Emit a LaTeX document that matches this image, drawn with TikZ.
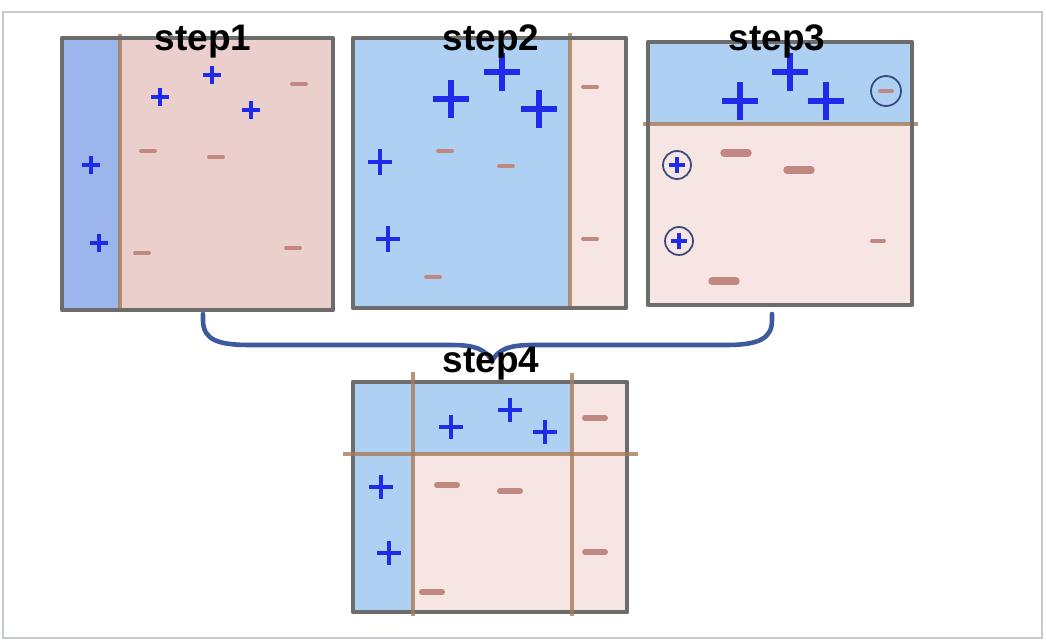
\documentclass[tikz,border=0pt]{standalone}
\usepackage{fontspec}
\setmainfont{Liberation Sans}
\usepackage{tikz}
\usetikzlibrary{positioning}
\definecolor{framegray}{HTML}{6C6C6C}
\definecolor{outergray}{HTML}{C6CBD1}
\definecolor{stripblue}{HTML}{9CB6EC}
\definecolor{regionblue}{HTML}{AED0F3}
\definecolor{deeppink}{HTML}{EACFCD}
\definecolor{lightpink}{HTML}{F6E5E3}
\definecolor{cutbrown}{HTML}{A87B58}
\definecolor{signblue}{HTML}{1F2BEB}
\definecolor{signred}{HTML}{C08880}
\definecolor{bracenavy}{HTML}{3C5A9C}
\definecolor{ringnavy}{HTML}{3A4A7C}

\begin{document}
\begin{tikzpicture}[x=0.01cm, y=-0.01cm,
    panel/.style={draw=framegray, line width=1.3pt, line join=round},
    cutline/.style={draw=cutbrown, line width=0.9pt, opacity=0.8},
    possign/.style={draw=signblue, line width=#1},
    possign/.default=0.9pt,
    negsign/.style={draw=signred, line width=#1, line cap=round},
    negsign/.default=1.1pt,
    ring/.style={draw=ringnavy, line width=0.5pt},
    steplabel/.style={font=\fontsize{10.5}{12}\selectfont\bfseries, anchor=base, inner sep=0pt},
    bracearc/.style={draw=bracenavy, line width=1.3pt, line cap=round}
]
\useasboundingbox (0,0) rectangle (1046,643);
\draw[outergray, line width=0.6pt] (3,12) rectangle (1042,638);

% step1
\fill[deeppink] (62,38) rectangle (333,310);
\fill[stripblue] (62,38) rectangle (120,310);
\draw[cutline] (120,34) -- (120,310);
\draw[panel] (62,38) rectangle (333,310);
\foreach \x/\y in {160/97, 212/75, 251/110, 91/165, 99/243}
  \draw[possign] (\x-9,\y) -- (\x+9,\y) (\x,\y-9) -- (\x,\y+9);
\foreach \x/\y in {299/84, 148/151, 216/157, 142/253, 293/248}
  \draw[negsign] (\x-7,\y) -- (\x+7,\y);

% step2
\fill[lightpink] (353,38) rectangle (626,308);
\fill[regionblue] (353,38) rectangle (570,308);
\draw[cutline] (570,33) -- (570,310);
\draw[panel] (353,38) rectangle (626,308);
\foreach \x/\y in {451/99, 502/72, 539/109}
  \draw[possign=1.9pt] (\x-18,\y) -- (\x+18,\y) (\x,\y-19) -- (\x,\y+19);
\foreach \x/\y in {380/162, 388/239}
  \draw[possign=1.3pt] (\x-12,\y) -- (\x+12,\y) (\x,\y-13) -- (\x,\y+13);
\foreach \x/\y in {590/87, 445/151, 506/166, 433/277, 590/239}
  \draw[negsign] (\x-7,\y) -- (\x+7,\y);

% step3
\fill[lightpink] (648,42) rectangle (912,305);
\fill[regionblue] (648,42) rectangle (912,124);
\draw[cutline] (643,124) -- (918,124);
\draw[panel] (648,42) rectangle (912,305);
\foreach \x/\y in {740/101, 790/72, 826/101}
  \draw[possign=1.9pt] (\x-18,\y) -- (\x+18,\y) (\x,\y-19) -- (\x,\y+19);
\foreach \x/\y in {677/165, 679/241} {
  \draw[ring] (\x,\y) circle (14);
  \draw[possign=1.1pt] (\x-8,\y) -- (\x+8,\y) (\x,\y-8) -- (\x,\y+8);
}
\draw[ring] (886,91) circle (15);
\draw[negsign] (880,91) -- (892,91);
\foreach \x/\y in {736/153, 799/170, 724/281}
  \draw[negsign=2.1pt] (\x-12,\y) -- (\x+12,\y);
\draw[negsign] (872,241) -- (884,241);

% brace
\coordinate (braceleft) at (203,314);
\coordinate (braceright) at (772,314);
\coordinate (bracetip) at (492,361);
\draw[bracearc] (braceleft) -- (203,320) .. controls (203,340) and (218,345) .. (250,345)
  -- (452,345) .. controls (476,345) and (486,350) .. (bracetip)
  .. controls (498,350) and (508,345) .. (532,345) -- (726,345)
  .. controls (760,345) and (772,338) .. (772,320) -- (braceright);

% step4
\fill[lightpink] (353,382) rectangle (627,612);
\fill[regionblue] (353,382) rectangle (413,612);
\fill[regionblue] (413,382) rectangle (572,454);
\draw[panel] (353,382) rectangle (627,612);
\draw[cutline] (413,372) -- (413,616);
\draw[cutline] (572,373) -- (572,616);
\draw[cutline] (343,454) -- (638,454);
\foreach \x/\y in {451/427, 510/410, 545/432, 381/487, 389/553}
  \draw[possign=1.3pt] (\x-12,\y) -- (\x+12,\y) (\x,\y-12) -- (\x,\y+12);
\foreach \x/\y in {595/418, 447/485, 510/491, 595/552, 432/592}
  \draw[negsign=1.7pt] (\x-10,\y) -- (\x+10,\y);

% labels
\node[steplabel] (lbl1) at (203,51) {step1};
\node[steplabel] (lbl2) at (491,51) {step2};
\node[steplabel] (lbl3) at (777,51) {step3};
\node[steplabel] (lbl4) at (491,372) {step4};
\end{tikzpicture}
\end{document}
